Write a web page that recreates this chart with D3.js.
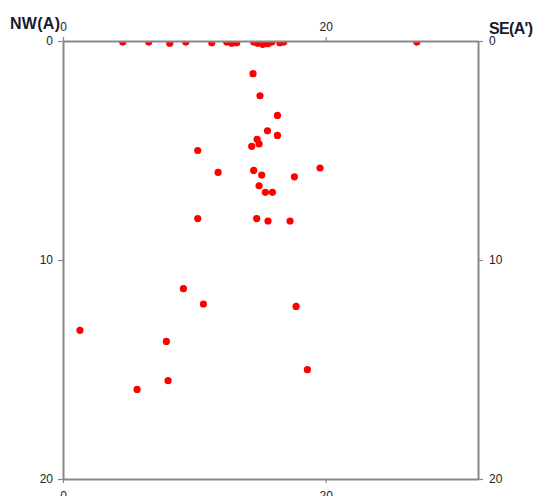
<!DOCTYPE html>
<html>
<head>
<meta charset="utf-8">
<script src="https://cdn.jsdelivr.net/npm/d3@7"></script>
<style>
  body { margin: 0; background: #fff; }
  .tick text { font-family: "Liberation Sans", Arial, sans-serif; font-size: 12px; fill: #222; }
  .lbl { font-family: "Liberation Sans", Arial, sans-serif; font-weight: bold; font-size: 16px; fill: #1a1a2e; }
</style>
</head>
<body>
<div id="chart"></div>
<script>
// distance along profile A-A' and depth of each event
var distance = [4.55, 6.53, 8.13, 9.35, 11.33, 12.47, 12.85, 13.23, 14.52, 14.83, 15.21, 15.59, 15.9, 16.51, 16.81, 26.94,
                14.47, 15.0, 16.33, 15.57, 16.33, 14.78, 14.93, 14.37, 10.26, 11.81, 14.52, 15.13, 17.62, 19.57,
                14.93, 15.41, 15.95, 10.26, 14.75, 15.61, 17.29,
                9.17, 1.29, 7.87, 8.0, 5.64, 10.69, 17.75, 18.61];
var depth    = [0.05, 0.05, 0.1, 0.05, 0.08, 0.05, 0.1, 0.08, 0.05, 0.1, 0.15, 0.12, 0.05, 0.08, 0.05, 0.05,
                1.49, 2.5, 3.4, 4.1, 4.31, 4.49, 4.7, 4.81, 5.0, 6.0, 5.91, 6.12, 6.2, 5.8,
                6.61, 6.91, 6.91, 8.11, 8.11, 8.22, 8.22,
                11.31, 13.21, 13.72, 15.51, 15.91, 12.01, 12.12, 15.01];
var xTicks = [0, 20];
var yTicks = [0, 10, 20];

var width = 536, height = 496;
var margin = {left: 63, right: 478, top: 41, bottom: 479};

var svg = d3.select("#chart").append("svg")
    .attr("width", width)
    .attr("height", height);

var x = d3.scaleLinear().domain([0, 31.6]).range([margin.left, margin.right]);
var y = d3.scaleLinear().domain([0, 20]).range([margin.top, margin.bottom]);

svg.append("clipPath").attr("id", "plot")
  .append("rect")
    .attr("x", margin.left).attr("y", margin.top)
    .attr("width", margin.right - margin.left).attr("height", margin.bottom - margin.top);

svg.append("g")
    .attr("clip-path", "url(#plot)")
    .selectAll("circle")
    .data(distance)
    .enter().append("circle")
    .attr("cx", function(d) { return x(d); })
    .attr("cy", function(d, i) { return y(depth[i]); })
    .attr("r", 3.6)
    .attr("fill", "#ff0000");

function styleAxis(g) {
  g.select(".domain").attr("stroke", "#888").attr("stroke-width", 2);
  g.selectAll(".tick line").attr("stroke", "#888").attr("stroke-width", 1.2);
}

svg.append("g")
    .attr("transform", "translate(0," + margin.top + ")")
    .call(d3.axisTop(x).tickValues(xTicks).tickSize(4).tickSizeOuter(0).tickFormat(d3.format("d")))
    .call(styleAxis)
    .call(function(g) { g.selectAll(".tick text").attr("y", -10); });

svg.append("g")
    .attr("transform", "translate(0," + margin.bottom + ")")
    .call(d3.axisBottom(x).tickValues(xTicks).tickSize(4).tickSizeOuter(0).tickFormat(d3.format("d")))
    .call(styleAxis)
    .call(function(g) { g.selectAll(".tick text").attr("y", 12); });

svg.append("g")
    .attr("transform", "translate(" + margin.left + ",0)")
    .call(d3.axisLeft(y).tickValues(yTicks).tickSize(5).tickSizeOuter(0).tickFormat(d3.format("d")))
    .call(styleAxis)
    .call(function(g) { g.selectAll(".tick text").attr("x", -10); });

svg.append("g")
    .attr("transform", "translate(" + margin.right + ",0)")
    .call(d3.axisRight(y).tickValues(yTicks).tickSize(5).tickSizeOuter(0).tickFormat(d3.format("d")))
    .call(styleAxis)
    .call(function(g) { g.selectAll(".tick text").attr("x", 11); });

// profile end labels
svg.append("text").attr("class", "lbl")
    .attr("x", 10).attr("y", 29)
    .attr("textLength", 50)
    .text("NW(A)");

svg.append("text").attr("class", "lbl")
    .attr("x", 489).attr("y", 34)
    .attr("textLength", 44)
    .text("SE(A')");
</script>
</body>
</html>
